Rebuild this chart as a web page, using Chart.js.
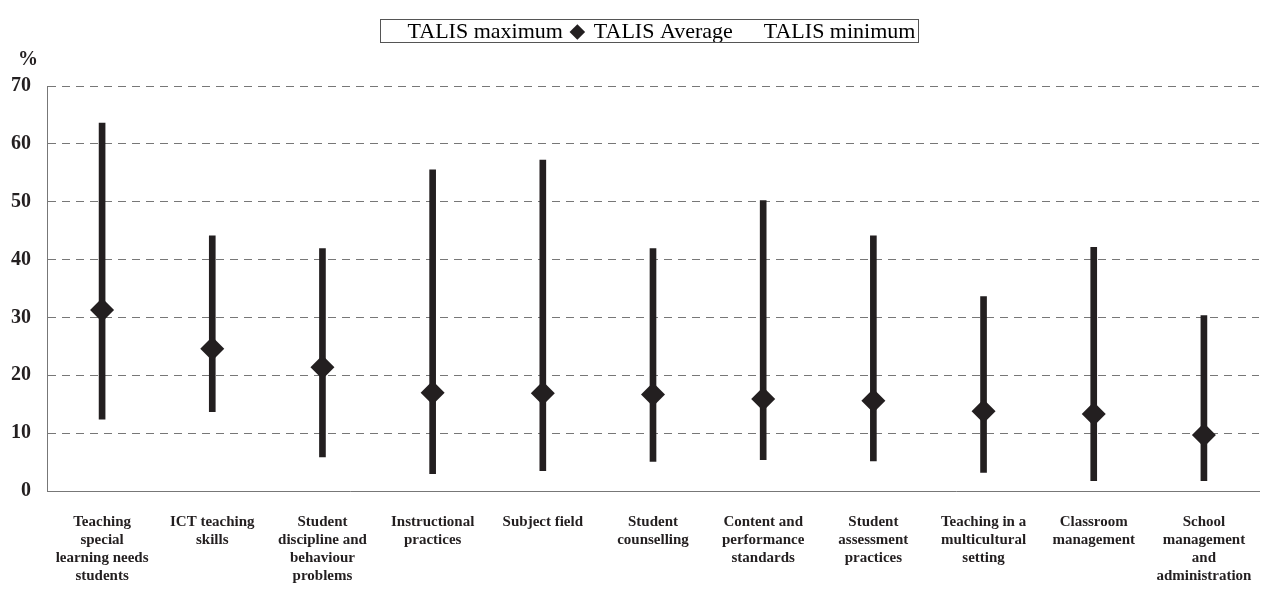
<!DOCTYPE html>
<html>
<head>
<meta charset="utf-8">
<script src="https://cdn.jsdelivr.net/npm/chart.js@4/dist/chart.umd.min.js"></script>
<style>
  html, body { margin:0; padding:0; background:#fff; }
  #wrap { position:relative; width:1271px; height:592px; }
</style>
</head>
<body>
<div id="wrap"><canvas id="c" width="1271" height="592"></canvas></div>
<script>
// ---------- data ----------
const categories = [
  ['Teaching','special','learning needs','students'],
  ['ICT teaching','skills'],
  ['Student','discipline and','behaviour','problems'],
  ['Instructional','practices'],
  ['Subject field'],
  ['Student','counselling'],
  ['Content and','performance','standards'],
  ['Student','assessment','practices'],
  ['Teaching in a','multicultural','setting'],
  ['Classroom','management'],
  ['School','management','and','administration']
];
const talisMax = [63.6, 44.1, 41.9, 55.5, 57.2, 41.9, 50.2, 44.1, 33.6, 42.1, 30.3];
const talisAvg = [31.3, 24.6, 21.4, 17.0, 16.9, 16.7, 15.9, 15.6, 13.8, 13.3, 9.7];
const talisMin = [12.4, 13.7, 5.9, 3.0, 3.5, 5.1, 5.4, 5.2, 3.2, 1.8, 1.8];
const yTicks = [0, 10, 20, 30, 40, 50, 60, 70];
const legendNames = ['TALIS maximum', 'TALIS Average', 'TALIS minimum'];

const ink = '#231f20';
const serif = "'Liberation Serif', 'Times New Roman', serif";
const legendShift = 19;   // original legend sits a little right of centre

// ---------- helpers ----------
// nudges the legend, frames it, and writes the "%" unit above the y axis
const legendBox = {
  id:'legendBox',
  afterLayout(chart) {
    chart.legend.left += legendShift;
    chart.legend.right += legendShift;
  },
  afterDraw(chart) {
    const hb = chart.legend.legendHitBoxes;
    if (!hb || !hb.length) return;
    const ctx = chart.ctx;
    const last = hb[hb.length-1];
    const l = hb[0].left - 6, r = last.left + last.width + 2;
    ctx.save();
    ctx.strokeStyle = '#555'; ctx.lineWidth = 1;
    ctx.strokeRect(Math.round(l)+0.5, 19.5, Math.round(r-l), 23);
    ctx.fillStyle = ink;
    ctx.font = "bold 20px " + serif;
    ctx.textAlign = 'left'; ctx.textBaseline = 'middle';
    ctx.fillText('%', 18, 60);
    ctx.restore();
  }
};

new Chart(document.getElementById('c'), {
  data:{
    labels:categories,
    datasets:[
      { type:'line', label:legendNames[1], data:talisAvg, showLine:false,
        pointStyle:'rectRot', pointRadius:12, pointHoverRadius:12,
        backgroundColor:ink, borderColor:ink, borderWidth:0, order:0 },
      { type:'bar', label:'range', data:talisMin.map((m,i)=>[m, talisMax[i]]),
        backgroundColor:ink, barThickness:6, grouped:false, order:1 }
    ]
  },
  options:{
    responsive:false, animation:false,
    layout:{ padding:{ top:12, right:8, left:0, bottom:0 } },
    plugins:{
      tooltip:{ enabled:false },
      title:{ display:true, text:' ', font:{ size:10 }, padding:{ top:0, bottom:21 } },
      legend:{
        position:'top', align:'center', weight:3000,
        labels:{
          usePointStyle:true, boxWidth:11, boxHeight:11, padding:9,
          color:ink, font:{ family:serif, size:22 },
          generateLabels:()=> legendNames.map((t,i)=>({
            text:t, datasetIndex:0, hidden:false,
            pointStyle:'rectRot',
            fillStyle: i===1 ? ink : 'rgba(0,0,0,0)',
            strokeStyle: i===1 ? ink : 'rgba(0,0,0,0)',
            lineWidth:0
          }))
        }
      }
    },
    scales:{
      x:{
        grid:{ display:false },
        border:{ display:true, color:'#777', width:1 },
        ticks:{ color:ink, maxRotation:0, autoSkip:false, padding:14,
          font:{ family:serif, size:15, weight:'bold', lineHeight:1.2 } },
        afterFit:(s)=>{ s.height = 101; }
      },
      y:{
        min:0, max:70,
        afterBuildTicks:(s)=>{ s.ticks = yTicks.map(v=>({value:v})); },
        grid:{ color:'#777', lineWidth:1, drawTicks:false },
        border:{ display:true, color:'#777', width:1, dash:[8,6] },
        ticks:{ color:ink, padding:16, font:{ family:serif, size:20, weight:'bold' } },
        afterFit:(s)=>{ s.width = 47; }
      }
    }
  },
  plugins:[legendBox]
});
</script>
</body>
</html>
